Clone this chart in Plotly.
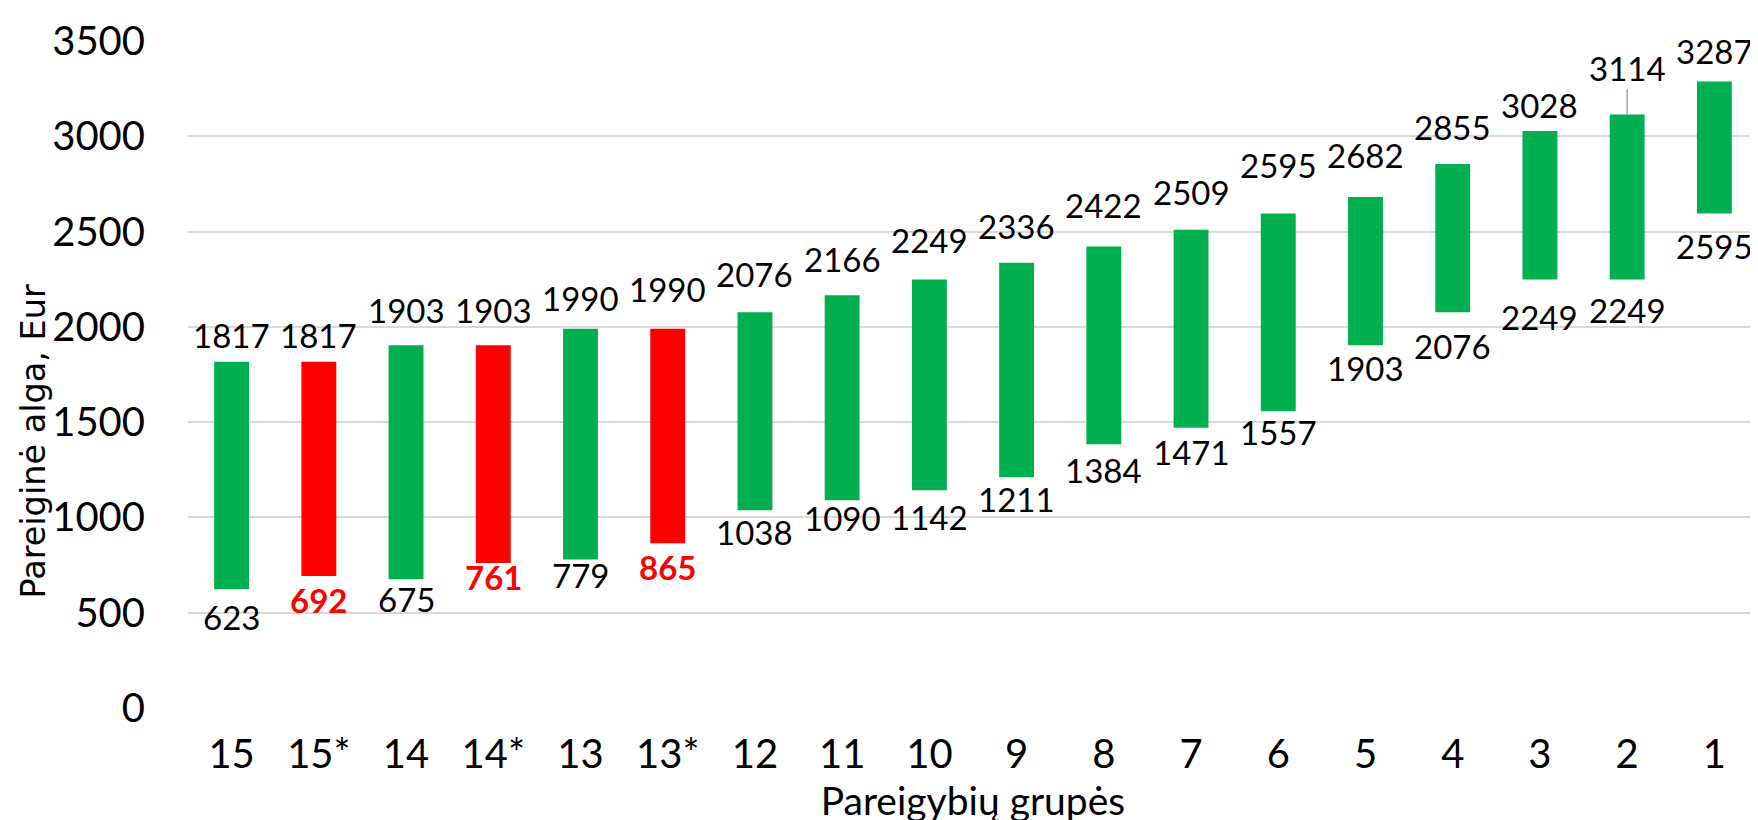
import plotly.graph_objects as go

# ---- data ----
groups = ["15", "15*", "14", "14*", "13", "13*", "12", "11", "10", "9", "8", "7",
          "6", "5", "4", "3", "2", "1"]
max_salary = [1817, 1817, 1903, 1903, 1990, 1990, 2076, 2166, 2249, 2336, 2422, 2509,
              2595, 2682, 2855, 3028, 3114, 3287]
min_salary = [623, 692, 675, 761, 779, 865, 1038, 1090, 1142, 1211, 1384, 1471,
              1557, 1903, 2076, 2249, 2249, 2595]
is_starred = [False, True, False, True, False, True, False, False, False, False, False,
              False, False, False, False, False, False, False]
y_ticks = [0, 500, 1000, 1500, 2000, 2500, 3000, 3500]
x_title = "Pareigybių grupės"
y_title = "Pareiginė alga, Eur"

# ---- style ----
GREEN = "#00B050"
RED = "#FF0000"
FONT = "Lato"
LABEL_SIZE = 33
TICK_SIZE = 40
# label nudges (px) from the bar ends, as placed in the original
top_nudge = [15, 15, 23, 23, 19, 28, 26, 24, 27, 25, 29, 26, 36, 30, 25, 14, 39, 19]
bot_nudge = [36, 32, 28, 22, 23, 32, 30, 26, 35, 30, 34, 32, 29, 31, 42, 46, 39, 41]
leader_idx = 16  # label "3114" has a leader line

colors = [RED if s else GREEN for s in is_starred]
heights = [hi - lo for hi, lo in zip(max_salary, min_salary)]

fig = go.Figure()
fig.add_trace(go.Bar(
    x=groups, y=heights, base=min_salary,
    marker=dict(color=colors, line=dict(width=0)),
    width=0.4, hoverinfo="skip", showlegend=False,
))

annotations = []
for i, g in enumerate(groups):
    # category axis position = index of the group
    if i == leader_idx:
        annotations.append(dict(
            x=i, y=max_salary[i], xref="x", yref="y",
            text=str(max_salary[i]), showarrow=True, ax=0, ay=-top_nudge[i] - 8,
            arrowhead=0, arrowwidth=1.5, arrowcolor="#A6A6A6", standoff=0,
            font=dict(family=FONT, size=LABEL_SIZE, color="#000000"),
        ))
    else:
        annotations.append(dict(
            x=i, y=max_salary[i], xref="x", yref="y",
            text=str(max_salary[i]), showarrow=False, yanchor="middle",
            yshift=top_nudge[i] + 12,
            font=dict(family=FONT, size=LABEL_SIZE, color="#000000"),
        ))
    txt = f"<b>{min_salary[i]}</b>" if is_starred[i] else str(min_salary[i])
    annotations.append(dict(
        x=i, y=min_salary[i], xref="x", yref="y",
        text=txt, showarrow=False, yanchor="middle",
        yshift=-bot_nudge[i] + 8,
        font=dict(family=FONT, size=LABEL_SIZE, color=RED if is_starred[i] else "#000000"),
    ))

# y-axis title, placed as in the original (below the plot-area centre)
annotations.append(dict(
    text=y_title, xref="paper", yref="paper", x=-0.0985, y=0.40,
    xanchor="center", yanchor="middle", textangle=-90, showarrow=False,
    borderpad=0,
    font=dict(family="DejaVu Sans", size=33.5, color="#000000"),
))

fig.update_layout(
    width=1758, height=820,
    margin=dict(l=180, r=8, t=27, b=120),
    paper_bgcolor="white", plot_bgcolor="white",
    font=dict(family=FONT, color="#000000"),
    annotations=annotations,
    bargap=0.6,
)
fig.update_xaxes(
    type="category", showgrid=False, showline=False, zeroline=False,
    ticks="", tickfont=dict(family=FONT, size=TICK_SIZE, color="#000000"),
    ticklabelstandoff=19,
    title=dict(text=x_title, font=dict(family=FONT, size=39, color="#000000"),
               standoff=0),
)
fig.update_yaxes(
    range=[0, 3500], tickvals=y_ticks, showgrid=True, gridcolor="#D9D9D9", gridwidth=1.5,
    zeroline=False, showline=False, ticks="",
    tickfont=dict(family=FONT, size=TICK_SIZE, color="#000000"),
    ticklabelstandoff=42,
)
fig.write_html("out.html")
